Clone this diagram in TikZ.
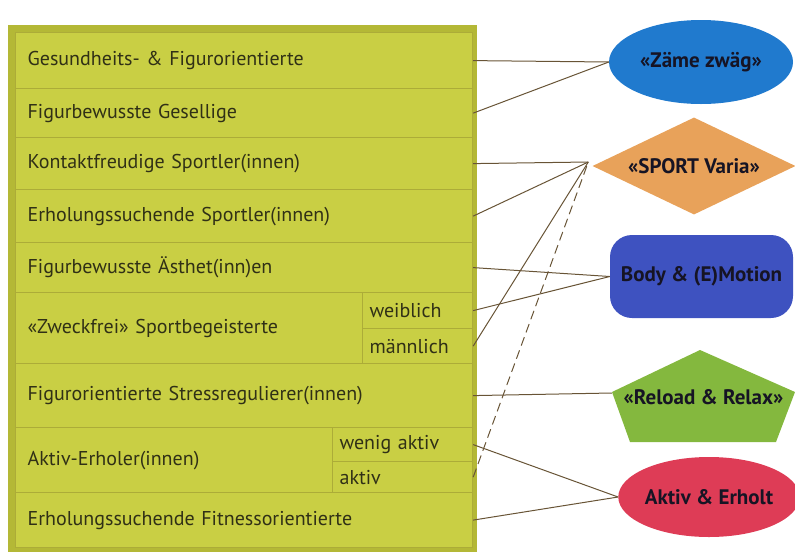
\documentclass[tikz,border=0pt]{standalone}
\usepackage{fontspec}
\setmainfont{PT Sans}
\usetikzlibrary{positioning}
\usetikzlibrary{shapes.geometric}

\definecolor{panelframe}{RGB}{180,184,54}
\definecolor{rowfill}{RGB}{201,207,68}
\definecolor{rowline}{RGB}{172,172,56}
\definecolor{rowtext}{RGB}{48,48,22}
\definecolor{labeltext}{RGB}{22,20,36}
\definecolor{linkcol}{RGB}{104,84,54}
\definecolor{zaemecol}{RGB}{32,122,206}
\definecolor{sportcol}{RGB}{232,162,90}
\definecolor{bodycol}{RGB}{62,82,192}
\definecolor{relaxcol}{RGB}{132,184,62}
\definecolor{aktivcol}{RGB}{222,60,86}

\begin{document}
\begin{tikzpicture}[x=1pt, y=-1pt,
  rowbox/.style={draw=rowline, line width=1.2pt, fill=rowfill, anchor=north west, align=left, inner xsep=12pt, text width=433pt, text=rowtext, font=\fontsize{20}{23}\selectfont},
  subbox/.style={rowbox, inner xsep=7pt},
  group/.style={inner sep=0pt, text=labeltext, font=\fontsize{21}{24}\selectfont\bfseries},
  link/.style={draw=linkcol, line width=1pt}
]
\useasboundingbox (0,0) rectangle (795,552);

% panel behind the rows
\fill[panelframe] (8,25) rectangle (477,552);

% Rows (top-down)
\node[rowbox, minimum height=56pt] (r1) at (15,32) {Gesundheits- \& Figurorientierte};
\node[rowbox, minimum height=49pt] (r2) at (15,88) {Figurbewusste Gesellige};
\node[rowbox, minimum height=52pt] (r3) at (15,137) {Kontaktfreudige Sportler(innen)};
\node[rowbox, minimum height=53pt] (r4) at (15,189) {Erholungssuchende Sportler(innen)};
\node[rowbox, minimum height=50pt] (r5) at (15,242) {Figurbewusste Ästhet(inn)en};
\node[rowbox, minimum height=71pt] (r6) at (15,292) {«Zweckfrei» Sportbegeisterte};
\node[rowbox, minimum height=64pt] (r7) at (15,363) {Figurorientierte Stressregulierer(innen)};
\node[rowbox, minimum height=65pt] (r8) at (15,427) {Aktiv-Erholer(innen)};
\node[rowbox, minimum height=55pt] (r9) at (15,492) {Erholungssuchende Fitnessorientierte};

% split rows
\node[subbox, text width=96pt, minimum height=36pt] (r6w) at (362,292) {weiblich};
\node[subbox, text width=96pt, minimum height=35pt] (r6m) at (362,328) {männlich};
\node[subbox, text width=126pt, minimum height=34pt] (r8a) at (332,427) {wenig aktiv};
\node[subbox, text width=126pt, minimum height=31pt] (r8b) at (332,461) {aktiv};

% Offers on the right
\node[group, ellipse, fill=zaemecol, minimum width=184pt, minimum height=84pt] (zaeme) at (701,62) {«Zäme zwäg»};
\node[group, diamond, fill=sportcol, aspect=2.1, minimum width=203pt, minimum height=97pt] (sport) at (694,166) {«SPORT Varia»};
\node[group, rectangle, rounded corners=22pt, fill=bodycol, minimum width=183pt, minimum height=83pt] (body) at (701.5,276.5) {Body \& (E)Motion};
\fill[relaxcol] (700,350) -- (612,392) -- (630,442) -- (776,442) -- (795,392) -- cycle;
\node[group, minimum width=183pt, minimum height=92pt] (reload) at (703.5,397) {«Reload \& Relax»};
\node[group, ellipse, fill=aktivcol, minimum width=168pt, minimum height=80pt] (aktiv) at (709,497) {Aktiv \& Erholt};

% Connectors
\draw[link] (r1.east) -- (zaeme.west);
\draw[link] (r2.east) -- (zaeme.west);
\draw[link] (r3.east) -- ([shift={(-4,-4)}]sport.west);
\draw[link] (r4.east) -- ([shift={(-4,-4)}]sport.west);
\draw[link] (r6m.east) -- ([shift={(-4,-4)}]sport.west);
\draw[link, dash pattern=on 9pt off 5pt] (r8b.east) -- ([shift={(-4,-4)}]sport.west);
\draw[link] (r5.east) -- (body.west);
\draw[link] (r6w.east) -- (body.west);
\draw[link] (r7.east) -- ([yshift=4pt]reload.west);
\draw[link] (r8a.east) -- (aktiv.west);
\draw[link] (r9.east) -- (aktiv.west);

\end{tikzpicture}
\end{document}
